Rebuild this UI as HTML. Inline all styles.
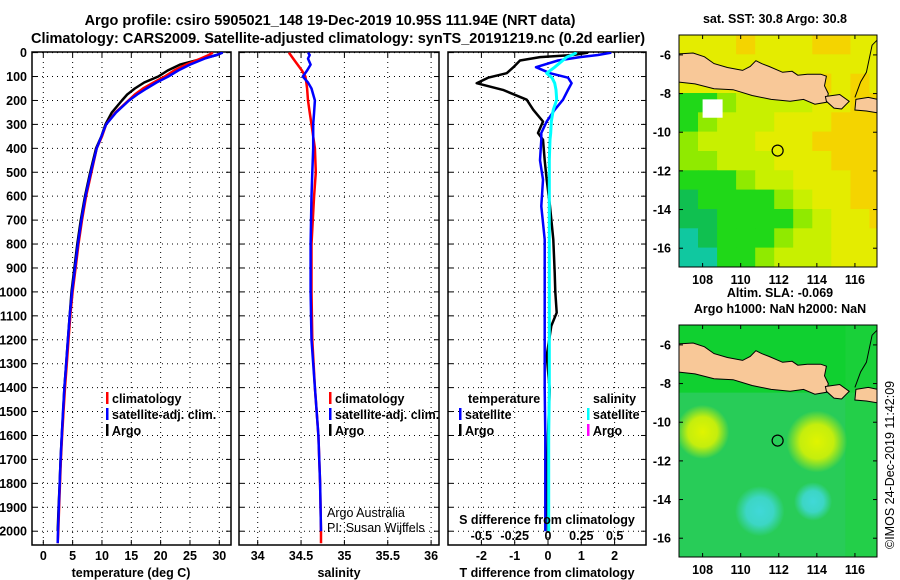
<!DOCTYPE html>
<html><head><meta charset="utf-8"><style>
html,body{margin:0;padding:0;background:#fff}
svg{display:block;font-family:"Liberation Sans",sans-serif}
.b{font-weight:bold;font-size:12.5px}
</style></head><body>
<svg id="s" width="900" height="580" viewBox="0 0 900 580" xmlns="http://www.w3.org/2000/svg">
<text x="330" y="25" text-anchor="middle" font-weight="bold" font-size="14.5">Argo profile: csiro 5905021_148 19-Dec-2019 10.95S 111.94E (NRT data)</text>
<text x="338" y="43" text-anchor="middle" font-weight="bold" font-size="14.5">Climatology: CARS2009. Satellite-adjusted climatology: synTS_20191219.nc (0.2d earlier)</text>
<g id="g"></g>
</svg>
<script>
// ---- data ----
const tDepth=[0,10,25,50,75,100,125,150,175,200,250,300,350,400,500,600,700,800,900,1000,1100,1200,1300,1400,1500,1600,1700,1800,1900,2000,2050];
const tClim=[28.9,28.2,26.8,24.3,22.3,20.7,18.8,17.0,15.6,14.5,12.3,10.7,10.0,9.1,8.2,7.3,6.6,6.0,5.5,5.0,4.6,4.3,4.0,3.7,3.45,3.2,3.0,2.85,2.7,2.55,2.45];
const tSat=[30.6,29.5,27.5,25.0,23.0,21.3,19.3,17.6,16.0,14.6,12.4,10.7,9.9,9.1,8.1,7.2,6.5,5.9,5.4,4.9,4.5,4.2,3.9,3.6,3.35,3.15,2.95,2.8,2.65,2.5,2.45];
const tArgo=[30.5,29.6,27.2,23.3,21.2,19.6,17.2,15.6,14.3,13.4,11.7,10.6,9.9,9.0,8.0,7.1,6.4,5.8,5.3,4.8,4.5,4.2,3.9,3.6,3.4,3.15,2.95,2.8,2.6,2.45,null];
const sDepth=[0,10,25,50,75,100,125,150,200,250,300,400,500,600,800,1000,1200,1400,1600,1800,2000,2050];
const sClim=[34.36,34.38,34.41,34.46,34.51,34.55,34.56,34.57,34.58,34.60,34.62,34.66,34.67,34.65,34.62,34.62,34.63,34.66,34.70,34.72,34.73,34.73];
const sSat=[34.58,34.60,34.58,34.61,34.57,34.52,34.58,34.62,34.66,34.65,34.64,34.64,34.63,34.62,34.61,34.61,34.62,34.66,34.70,34.72,34.73,null];
const dDepth=[0,10,19,33,61,86,105,128,156,197,239,288,336,364,450,531,642,781,920,1000,1087,1142,1267,1406,1600,1800,2000];
const dTSat=[1.9,1.5,0.96,0.3,-0.36,0.06,0.6,0.71,0.6,0.45,0.2,-0.04,-0.2,-0.2,-0.24,-0.15,-0.2,-0.1,-0.1,-0.1,-0.1,-0.1,-0.1,-0.1,-0.08,-0.08,-0.08];
const dTArgo=[1.2,0.75,-0.24,-0.84,-1.04,-1.24,-1.8,-2.14,-1.35,-0.64,-0.44,-0.15,-0.3,-0.15,-0.1,-0.04,0.06,0.16,0.2,0.22,0.26,0.1,-0.04,0.05,0.0,-0.02,0.0];
const dSSat=[0.215,0.18,0.14,0.11,0.05,-0.01,0.03,0.05,0.06,0.065,0.04,0.025,0.02,0.015,0.01,0.01,0.01,0.01,0.01,0.01,0.01,0.01,0.01,0.01,0.005,0.005,0.005];
const depthTicks=[0,100,200,300,400,500,600,700,800,900,1000,1100,1200,1300,1400,1500,1600,1700,1800,1900,2000];
const tTicks=[0,5,10,15,20,25,30];
const sTicks=[34,34.5,35,35.5,36];
const dTTicks=[-2,-1,0,1,2];
const dSTicks=[-0.5,-0.25,0,0.25,0.5];
// SST map grid (rows lat -5..-17, cols lon 106.76..), colour class index
const sstGrid=[
[5,5,5,6,5,5,5,6,6,5,5],
[5,5,5,5,5,5,5,5,5,5,5],
[5,5,5,5,5,5,5,6,5,6,5],
[2,2,3,4,4,4,4,5,5,6,6],
[2,3,4,4,4,5,5,5,6,6,6],
[3,4,4,4,5,5,5,6,6,6,6],
[3,3,4,4,4,5,5,5,6,6,6],
[2,2,2,3,4,4,5,5,5,6,6],
[1,2,2,2,2,3,4,5,5,6,6],
[1,1,2,2,2,2,3,4,5,5,6],
[0,1,2,2,2,3,4,4,5,5,5],
[0,0,2,2,3,4,4,4,5,5,5]];
const sstColors=['#10c8a0','#10c050','#20d818','#90ea00','#c8f000','#e4ec00','#f4d400'];
const slaBlobs=[[108,-10.5,1.4,'#e0f400'],[114,-11,1.6,'#e0f400'],[111,-14.6,1.3,'#40d8d8'],[113.8,-14.1,1.0,'#40d8d8']];

// ---- helpers ----
const NS='http://www.w3.org/2000/svg';
const G=document.getElementById('g');
function el(t,a,p){const e=document.createElementNS(NS,t);for(const k in a)e.setAttribute(k,a[k]);(p||G).appendChild(e);return e;}
function txt(x,y,s,a,p){const e=el('text',Object.assign({x:x,y:y},a||{}),p);e.textContent=s;return e;}
const Y0=52.6,YK=0.2393,PT=52,PB=545;
const yD=d=>Y0+d*YK;
const xT=v=>43.3+v*5.867;
const xS=v=>257.7+(v-34)*86.7;
const xDT=v=>548+v*33.3;
const xDS=v=>548+v*133.3;

function panel(name,x0,x1){
  const r=el('rect',{x:x0,y:PT,width:x1-x0,height:PB-PT,fill:'#fff',stroke:'#000','stroke-width':1.5});
  
  
  depthTicks.forEach(d=>{const y=yD(d);
    const l=el('line',{x1:x0,x2:x1,y1:y,y2:y,stroke:'#000','stroke-width':1,'stroke-dasharray':'1,4'});
    
    
    el('line',{x1:x0,x2:x0+5,y1:y,y2:y,stroke:'#000'});el('line',{x1:x1-5,x2:x1,y1:y,y2:y,stroke:'#000'});
  });
}
function vgrid(xs,fx){xs.forEach(v=>{const x=fx(v);
  const l=el('line',{x1:x,x2:x,y1:PT,y2:PB,stroke:'#000','stroke-width':1,'stroke-dasharray':'1,4'});
  
  
  el('line',{x1:x,x2:x,y1:PB-5,y2:PB,stroke:'#000'});el('line',{x1:x,x2:x,y1:PT,y2:PT+5,stroke:'#000'});});}
function series(name,depths,vals,fx,color,w){
  let d='';let started=false;
  depths.forEach((dp,i)=>{const v=vals[i];if(v===null||v===undefined)return;d+=(started?'L':'M')+fx(v).toFixed(1)+','+yD(dp).toFixed(1);started=true;});
  const p=el('path',{d:d,fill:'none',stroke:color,'stroke-width':w||2.5,'stroke-linejoin':'round'});
  
  
}
function legend(name,x,y,color,label){
  const g=el('g',{});
  
  
  el('rect',{x:x,y:y-11,width:2.5,height:12,fill:color},g);
  txt(x+6,y,label,{class:'b'},g);
}
const defs=el('defs',{});
[['c1',32,231],['c2',239,439],['c3',448,646]].forEach(c=>{const cp=el('clipPath',{id:c[0]},defs);el('rect',{x:c[1],y:PT,width:c[2]-c[1],height:PB-PT},cp);});
function seriesIn(g,...a){series(...a);g.appendChild(G.lastChild);}

// Panel 1
panel('temperature-panel',32,231);
vgrid(tTicks,xT);
const g1=el('g',{'clip-path':'url(#c1)'});
seriesIn(g1,'temp-argo-line',tDepth,tArgo,xT,'#000');
seriesIn(g1,'temp-climatology-line',tDepth,tClim,xT,'#f00');
seriesIn(g1,'temp-satellite-line',tDepth,tSat,xT,'#00f');
depthTicks.forEach(d=>{const t=txt(27,yD(d)+4.5,String(d),{'text-anchor':'end',class:'b'});});
tTicks.forEach(v=>{const t=txt(xT(v),560,String(v),{'text-anchor':'middle',class:'b'});});
txt(131,577,'temperature (deg C)',{'text-anchor':'middle',class:'b',});
legend('legend-climatology',106,403,'#f00','climatology');
legend('legend-satellite-adj',106,419,'#00f','satellite-adj. clim.');
legend('legend-argo',106,435,'#000','Argo');

// Panel 2
panel('salinity-panel',239,439);
vgrid(sTicks,xS);
const g2=el('g',{'clip-path':'url(#c2)'});
seriesIn(g2,'sal-climatology-line',sDepth,sClim,xS,'#f00');
seriesIn(g2,'sal-satellite-line',sDepth,sSat,xS,'#00f');
sTicks.forEach(v=>{const t=txt(xS(v),560,String(v),{'text-anchor':'middle',class:'b'});});
txt(339,577,'salinity',{'text-anchor':'middle',class:'b',});
legend('legend-climatology-2',329,403,'#f00','climatology');
legend('legend-satellite-adj-2',329,419,'#00f','satellite-adj. clim.');
legend('legend-argo-2',329,435,'#000','Argo');
txt(327,517,'Argo Australia',{'font-size':12.5,});
txt(327,532,'PI: Susan Wijffels',{'font-size':12.5,});

// Panel 3
panel('difference-panel',448,646);
vgrid(dTTicks,xDT);
const g3=el('g',{'clip-path':'url(#c3)'});
seriesIn(g3,'tdiff-argo-line',dDepth,dTArgo,xDT,'#000');
seriesIn(g3,'tdiff-satellite-line',dDepth,dTSat,xDT,'#00f');
seriesIn(g3,'sdiff-satellite-line',dDepth,dSSat,xDS,'#0ff',3);
dTTicks.forEach(v=>{const t=txt(xDT(v),560,String(v),{'text-anchor':'middle',class:'b'});});
dSTicks.forEach(v=>{const t=txt(xDS(v),540,String(v),{'text-anchor':'middle',class:'b'});});
txt(547,524,'S difference from climatology',{'text-anchor':'middle',class:'b',});
txt(547,577,'T difference from climatology',{'text-anchor':'middle',class:'b',});
txt(468,403,'temperature',{class:'b',});
txt(593,403,'salinity',{class:'b',});
legend('legend-tdiff-satellite',459,419,'#00f','satellite');
legend('legend-tdiff-argo',459,435,'#000','Argo');
legend('legend-sdiff-satellite',587,419,'#0ff','satellite');
legend('legend-sdiff-argo',587,435,'#f0f','Argo');

// ---- maps ----
const MX0=679,MX1=877,LON0=106.76,LONK=19.04,LATK=19.33;
const mx=lon=>MX0+(lon-LON0)*LONK;
function mapFrame(name,top){
  const my=lat=>top+(-4.97-lat)*LATK;
  const bottom=top+232;
  const g=el('g',{});
  
  
  const cp=el('clipPath',{id:'clip'+name},defs);el('rect',{x:MX0,y:top,width:MX1-MX0,height:232},cp);
  const inner=el('g',{'clip-path':'url(#clip'+name+')'},g);
  return {g,inner,my,top,bottom};
}
function land(m){
  const my=m.my;
  const pts=[[106.7,-5.95],[107.5,-5.9],[108.1,-6.1],[108.6,-6.45],[109.3,-6.65],[110.1,-6.8],[110.5,-6.6],[110.8,-6.3],[111.1,-6.45],[111.5,-6.6],[112.2,-6.9],[112.7,-6.85],[113.0,-7.05],[113.5,-7.0],[114.2,-7.0],[114.5,-7.1],[114.4,-7.6],[114.6,-8.0],[114.5,-8.45],[113.9,-8.55],[113.3,-8.3],[112.6,-8.4],[111.6,-8.3],[110.6,-8.1],[109.6,-7.8],[108.6,-7.75],[107.6,-7.5],[106.7,-7.4]];
  const p=el('polygon',{points:pts.map(q=>mx(q[0]).toFixed(1)+','+my(q[1]).toFixed(1)).join(' '),fill:'#f8c898',stroke:'#000','stroke-width':1},m.inner);
  
  
  const bali=[[114.45,-8.15],[115.2,-8.05],[115.7,-8.4],[115.3,-8.8],[114.9,-8.75],[114.5,-8.4]];
  const b=el('polygon',{points:bali.map(q=>mx(q[0]).toFixed(1)+','+my(q[1]).toFixed(1)).join(' '),fill:'#f8c898',stroke:'#000','stroke-width':1},m.inner);
  
  
  const lom=[[116.05,-8.3],[116.7,-8.2],[117.2,-8.3],[117.2,-9.0],[116.6,-8.9],[116.0,-8.85]];
  const l=el('polygon',{points:lom.map(q=>mx(q[0]).toFixed(1)+','+my(q[1]).toFixed(1)).join(' '),fill:'#f8c898',stroke:'#000','stroke-width':1},m.inner);
  
  
  el('polyline',{points:[[116.0,-8.2],[116.3,-7.4],[116.6,-6.9],[116.9,-5.5],[117.2,-5.2]].map(q=>mx(q[0]).toFixed(1)+','+my(q[1]).toFixed(1)).join(' '),fill:'none',stroke:'#000','stroke-width':1},m.inner);
  const c=el('circle',{cx:mx(111.94),cy:my(-10.95),r:5.5,fill:'none',stroke:'#000','stroke-width':1.2},m.g);
  
  
  el('rect',{x:MX0,y:m.top,width:MX1-MX0,height:232,fill:'none',stroke:'#000','stroke-width':1},m.g);
  [-6,-8,-10,-12,-14,-16].forEach(lat=>{const y=my(lat);
    el('line',{x1:MX0,x2:MX0+4,y1:y,y2:y,stroke:'#000'},m.g);el('line',{x1:MX1-4,x2:MX1,y1:y,y2:y,stroke:'#000'},m.g);
    const t=txt(671,y+4.5,String(lat),{'text-anchor':'end',class:'b'},m.g);
    
    });
  [108,110,112,114,116].forEach(lon=>{const x=mx(lon);
    el('line',{x1:x,x2:x,y1:m.bottom-4,y2:m.bottom,stroke:'#000'},m.g);el('line',{x1:x,x2:x,y1:m.top,y2:m.top+4,stroke:'#000'},m.g);
    const t=txt(x,m.bottom+17,String(lon),{'text-anchor':'middle',class:'b'},m.g);
    
    });
}
// SST map
const m1=mapFrame('sst-map',35);
sstGrid.forEach((row,r)=>row.forEach((ci,c)=>{
  const x=MX0+c*LONK,y=m1.top+r*LATK;
  const cell=el('rect',{x:x.toFixed(1),y:y.toFixed(1),width:LONK+0.6,height:LATK+0.6,fill:sstColors[ci]},m1.inner);
  
  
}));
el('rect',{x:mx(108),y:m1.my(-8.3),width:LONK*1.05,height:LATK*0.95,fill:'#fff'},m1.inner);
land(m1);
txt(775,23,'sat. SST: 30.8 Argo: 30.8',{'text-anchor':'middle',class:'b',});
// SLA map
const m2=mapFrame('sla-map',325);
const gd=el('defs',{});
slaBlobs.forEach((b,i)=>{const rg=el('radialGradient',{id:'rg'+i},gd);el('stop',{offset:'0','stop-color':b[3],'stop-opacity':1},rg);el('stop',{offset:'0.55','stop-color':b[3],'stop-opacity':0.85},rg);el('stop',{offset:'1','stop-color':b[3],'stop-opacity':0},rg);});
el('rect',{x:MX0,y:m2.top,width:MX1-MX0,height:232,fill:'#28cc58'},m2.inner);
el('rect',{x:MX0,y:m2.top,width:MX1-MX0,height:LATK*3.5,fill:'#10d030'},m2.inner);
el('rect',{x:mx(115.5),y:m2.top,width:LONK*2,height:232,fill:'#20d040',opacity:0.6},m2.inner);
slaBlobs.forEach((b,i)=>{const e=el('ellipse',{cx:mx(b[0]),cy:m2.my(b[1]),rx:b[2]*LONK,ry:b[2]*LATK,fill:'url(#rg'+i+')'},m2.inner);
  
  });
land(m2);
txt(780,297,'Altim. SLA: -0.069',{'text-anchor':'middle',class:'b',});
txt(780,313,'Argo h1000: NaN h2000: NaN',{'text-anchor':'middle',class:'b',});
txt(0,0,'©IMOS 24-Dec-2019 11:42:09',{'font-size':12.5,transform:'translate(894,549) rotate(-90)',});
</script>
</body></html>
